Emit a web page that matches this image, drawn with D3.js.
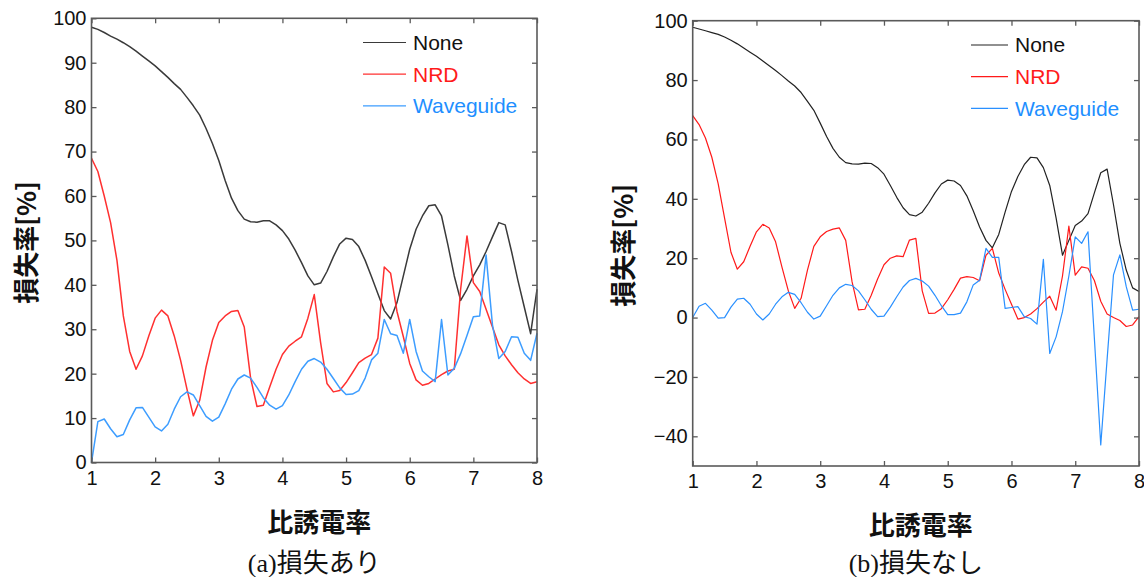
<!DOCTYPE html>
<html>
<head>
<meta charset="utf-8">
<script src="https://cdn.jsdelivr.net/npm/d3@7"></script>
<style>
  body { margin: 0; background: #fff; }
  svg { display: block; }
</style>
</head>
<body>
<svg width="1144" height="577"></svg>
<script>
// 比誘電率 (sampled every 0.1)
const eps = [1.0, 1.1, 1.2, 1.3, 1.4, 1.5, 1.6, 1.7, 1.8, 1.9,
  2.0, 2.1, 2.2, 2.3, 2.4, 2.5, 2.6, 2.7, 2.8, 2.9,
  3.0, 3.1, 3.2, 3.3, 3.4, 3.5, 3.6, 3.7, 3.8, 3.9,
  4.0, 4.1, 4.2, 4.3, 4.4, 4.5, 4.6, 4.7, 4.8, 4.9,
  5.0, 5.1, 5.2, 5.3, 5.4, 5.5, 5.6, 5.7, 5.8, 5.9,
  6.0, 6.1, 6.2, 6.3, 6.4, 6.5, 6.6, 6.7, 6.8, 6.9,
  7.0, 7.1, 7.2, 7.3, 7.4, 7.5, 7.6, 7.7, 7.8, 7.9, 8.0];

// (a) 損失あり
const lossNone = [98, 97.5, 96.8, 96.0, 95.3, 94.5, 93.6, 92.6, 91.5, 90.4,
  89.3, 88.0, 86.7, 85.3, 84.0, 82.2, 80.3, 78.2, 75.2, 71.8,
  68.0, 63.5, 59.5, 56.7, 54.8, 54.2, 54.1, 54.4, 54.4, 53.5,
  52.2, 50.3, 47.8, 45.0, 42.0, 40.0, 40.4, 43.0, 46.3, 49.2,
  50.5, 50.2, 48.6, 45.5, 41.8, 38.0, 34.2, 32.3, 36.0, 42.0,
  48.0, 52.5, 55.5, 57.8, 58.0, 55.5, 49.0, 42.0, 36.5, 39.0,
  42.0, 44.5, 47.5, 50.8, 54.0, 53.5, 47.5, 41.0, 35.0, 29.0, 39.0];
const lossNRD = [68.5, 65.5, 60, 54, 45.5, 33, 25, 21, 24, 28.5,
  32.5, 34.3, 33, 28.5, 23, 16.5, 10.5, 14, 21.5, 27.5,
  31.5, 33, 34, 34.2, 30.5, 19, 12.6, 12.9, 17, 21,
  24.3, 26.2, 27.3, 28.3, 32.5, 37.8, 27, 17.8, 15.9, 16.2,
  18, 20.2, 22.5, 23.5, 24.3, 28, 44, 42.6, 34, 28.3,
  22.3, 18.6, 17.4, 17.8, 18.8, 19.8, 20.6, 21, 39, 51,
  40.5, 38.5, 34.5, 30.5, 26.5, 24, 22, 20.2, 18.8, 17.8, 18.2];
const lossWG = [0, 9.2, 9.8, 7.6, 5.8, 6.3, 9.6, 12.3, 12.4, 10.2,
  8, 7.1, 8.6, 12, 14.8, 15.9, 15.2, 12.8, 10.4, 9.3,
  10.2, 13.2, 16.5, 18.8, 19.7, 19, 16.9, 14.6, 12.9, 12,
  12.8, 15.2, 18.2, 21, 22.8, 23.4, 22.6, 21, 18.9, 16.8,
  15.3, 15.4, 16.2, 19, 23.1, 24.6, 32.2, 29, 28.6, 24.6,
  32.2, 25, 20.6, 19.3, 18.2, 32.2, 19.7, 21.2, 24.5, 28.6,
  32.8, 33, 46.7, 31, 23.4, 25, 28.3, 28.2, 24.6, 23, 29.1];

// (b) 損失なし
const freeNone = [97.8, 97.2, 96.6, 96, 95.4, 94.5, 93.4, 92.2, 90.8, 89.4,
  88, 86.4, 84.8, 83.2, 81.5, 79.7, 78, 75.8, 72.8, 69.8,
  65.5, 61, 57, 54, 52.2, 51.8, 51.7, 52, 51.9, 50.5,
  48.3, 44.5, 40.5, 37, 34.7, 34.2, 35.5, 38.5, 42, 45,
  46.3, 46, 44.5, 41, 36, 30.5, 26, 23.5, 28, 35.5,
  42.5, 47.5, 51.5, 54, 53.8, 50.5, 44.5, 33.5, 21, 26,
  31, 32.5, 35, 42, 48.8, 50, 38, 25, 16, 10, 8.8];
const freeNRD = [68, 65, 60.5, 54, 45, 33.5, 22, 16.3, 18.8, 24,
  28.9, 31.4, 30.2, 25.5, 17, 9, 3.1, 6.5, 16, 24,
  27.2, 29, 29.8, 30.2, 26, 12, 2.6, 2.8, 7.5, 13,
  17.8, 20, 20.8, 20.5, 26.1, 26.7, 9, 1.4, 1.5, 3,
  6, 9.5, 13.3, 13.8, 13.5, 12.4, 21, 23.3, 15, 9.5,
  4.5, -0.5, 0, 1.2, 3, 5.2, 7.2, 2.5, 14, 30.8,
  14.3, 17.1, 16.6, 12.5, 5.5, 1.2, 0, -1, -3, -2.5, 0.3];
const freeWG = [0, 3.8, 4.8, 2.5, -0.2, 0, 3.5, 6.2, 6.5, 4.5,
  1.2, -0.8, 1.2, 4.5, 7, 8.5, 7.8, 5, 1.8, -0.5,
  0.5, 4, 7.5, 10, 11.2, 10.8, 9, 6, 2.8, 0.3,
  0.5, 3.5, 7, 10.3, 12.5, 13.2, 12.3, 10.6, 7.5, 4,
  1, 1, 1.5, 5.3, 11, 12.6, 23.3, 20.3, 20.3, 3.1,
  3.4, 3.7, 0.3, -0.3, -2.2, 19.6, -12.1, -6.5, 2, 14,
  27.2, 25, 28.9, -7, -42.9, -14, 14.4, 21.1, 10.4, 2.5, 2.8];

const seriesNames = ["None", "NRD", "Waveguide"];
const xTicks = [1, 2, 3, 4, 5, 6, 7, 8];
const yTicksA = [0, 10, 20, 30, 40, 50, 60, 70, 80, 90, 100];
const yTicksB = [-40, -20, 0, 20, 40, 60, 80, 100];

const svg = d3.select("svg");
svg.append("rect").attr("width", 1144).attr("height", 577).attr("fill", "#fff");

const tickFont = "'Liberation Sans', Arial, sans-serif";
const cjkFont = "'Noto Sans CJK JP', sans-serif";

function panel(cfg) {
    const g = svg.append("g");
    const x = d3.scaleLinear().domain([1, 8]).range([cfg.left, cfg.right]);
    const y = d3.scaleLinear().domain(cfg.yDomain).range([cfg.bottom, cfg.top]);

    const line = d3.line()
        .x((d, i) => x(eps[i]))
        .y(d => y(d));

    g.selectAll("path.series")
        .data(cfg.series)
        .join("path")
        .attr("class", "series")
        .attr("d", d => line(d.values))
        .attr("fill", "none")
        .attr("stroke", d => d.color)
        .attr("stroke-width", cfg.lineWidth)
        .attr("stroke-linejoin", "round");

    // axes with inward ticks on all four sides
    const fmt = d3.format("d");
    const axes = [
        [d3.axisBottom(x).tickValues(xTicks).tickFormat(fmt).tickSize(-5).tickPadding(8), `translate(0,${cfg.bottom})`],
        [d3.axisTop(x).tickValues(xTicks).tickSize(-5).tickFormat(""), `translate(0,${cfg.top})`],
        [d3.axisLeft(y).tickValues(cfg.yTicks).tickFormat(fmt).tickSize(-5).tickPadding(5), `translate(${cfg.left},0)`],
        [d3.axisRight(y).tickValues(cfg.yTicks).tickSize(-5).tickFormat(""), `translate(${cfg.right},0)`]
    ];
    for (const [axis, tr] of axes) {
        const a = g.append("g").attr("transform", tr).call(axis);
        a.select(".domain").remove();
        a.selectAll("line").attr("stroke", "#5a5a5a").attr("stroke-width", 1.3);
        a.selectAll("text")
            .attr("font-family", tickFont)
            .attr("font-size", 20)
            .attr("fill", "#111");
    }

    g.append("rect")
        .attr("x", cfg.left).attr("y", cfg.top)
        .attr("width", cfg.right - cfg.left)
        .attr("height", cfg.bottom - cfg.top)
        .attr("fill", "none")
        .attr("stroke", "#5a5a5a")
        .attr("stroke-width", 1.6);

    // legend
    const lg = g.append("g")
        .selectAll("g")
        .data(cfg.series)
        .join("g")
        .attr("transform", (d, i) => `translate(0,${cfg.legendY + i * 31.7})`);
    lg.append("line")
        .attr("x1", cfg.legendX).attr("x2", cfg.legendX + cfg.legendLen)
        .attr("stroke", d => d.color)
        .attr("stroke-width", 1.2);
    lg.append("text")
        .attr("x", cfg.legendX + cfg.legendLen + 7)
        .attr("dy", "0.35em")
        .attr("font-family", tickFont)
        .attr("font-size", 21)
        .attr("fill", d => d.textColor)
        .text(d => d.name);

    // axis labels
    g.append("text")
        .attr("transform", `translate(${cfg.yLabelX},${(cfg.top + cfg.bottom) / 2 + 2}) rotate(-90)`)
        .attr("text-anchor", "middle")
        .attr("dy", "0.35em")
        .attr("font-family", cjkFont)
        .attr("font-weight", "bold")
        .attr("font-size", 26)
        .attr("fill", "#111")
        .text("損失率[%]");
    g.append("text")
        .attr("x", (cfg.left + cfg.right) / 2 + 5)
        .attr("y", cfg.bottom + 60)
        .attr("text-anchor", "middle")
        .attr("dy", "0.35em")
        .attr("font-family", cjkFont)
        .attr("font-weight", "bold")
        .attr("font-size", 26)
        .attr("fill", "#111")
        .text("比誘電率");
    g.append("text")
        .attr("x", (cfg.left + cfg.right) / 2)
        .attr("y", 563)
        .attr("text-anchor", "middle")
        .attr("dy", "0.35em")
        .attr("font-family", "'Liberation Serif', 'Noto Sans CJK JP', serif")
        .attr("font-size", 26)
        .attr("fill", "#111")
        .text(cfg.caption);
}

panel({
    left: 91.5, right: 537, top: 18.3, bottom: 462.5,
    yDomain: [0, 100], yTicks: yTicksA, lineWidth: 1.5,
    yLabelX: 27, legendX: 363, legendLen: 43, legendY: 42.5,
    caption: "(a)損失あり",
    series: [
        {name: seriesNames[0], values: lossNone, color: "#3a3a3a", textColor: "#111"},
        {name: seriesNames[1], values: lossNRD, color: "#ff3030", textColor: "#ff1a1a"},
        {name: seriesNames[2], values: lossWG, color: "#3d9dff", textColor: "#1e8fff"}
    ]
});

panel({
    left: 692.7, right: 1139, top: 20.7, bottom: 466,
    yDomain: [-50, 100], yTicks: yTicksB, lineWidth: 1.2,
    yLabelX: 624, legendX: 971, legendLen: 37, legendY: 45,
    caption: "(b)損失なし",
    series: [
        {name: seriesNames[0], values: freeNone, color: "#222", textColor: "#111"},
        {name: seriesNames[1], values: freeNRD, color: "#ff1a1a", textColor: "#ff1a1a"},
        {name: seriesNames[2], values: freeWG, color: "#2a90ff", textColor: "#1e8fff"}
    ]
});
</script>
</body>
</html>
